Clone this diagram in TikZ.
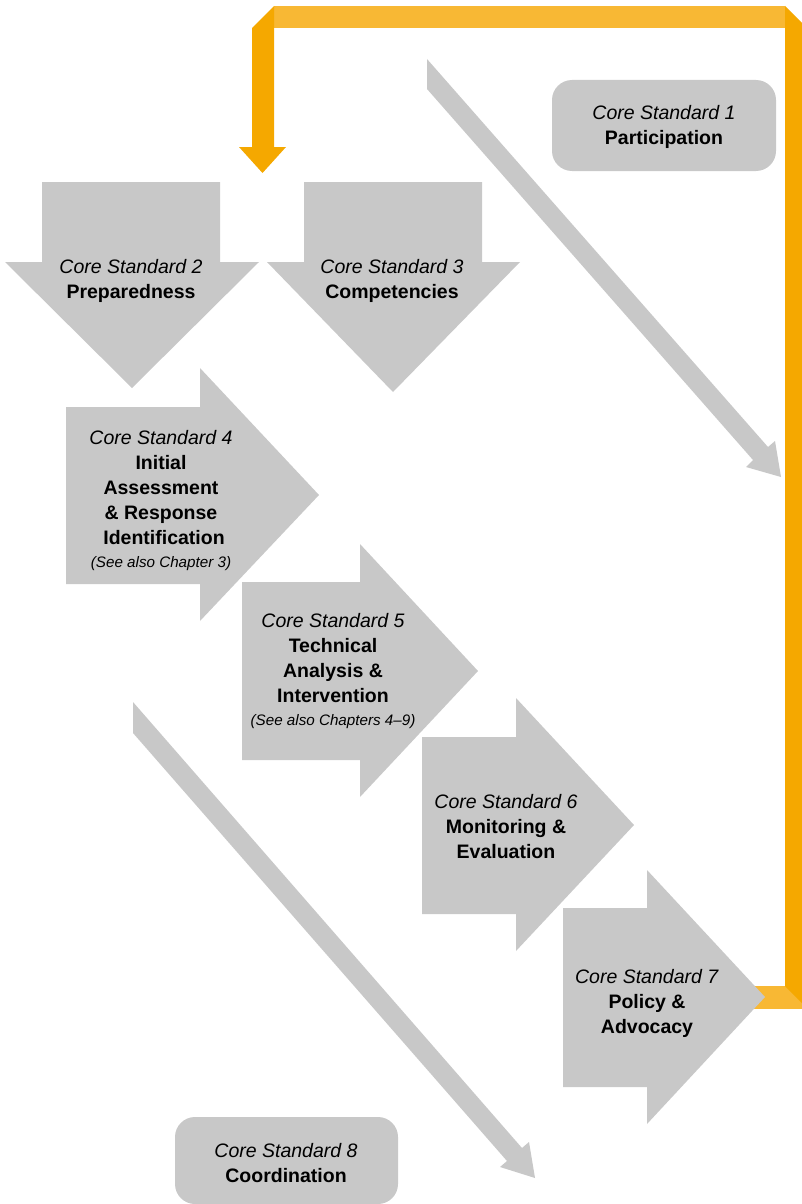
\documentclass[tikz,border=0pt]{standalone}
\usepackage{fontspec}
\setmainfont{Liberation Sans}

\definecolor{boxgray}{RGB}{200,200,200}
\definecolor{ribbonlight}{RGB}{248,184,52}
\definecolor{ribbondark}{RGB}{245,168,0}

\newcommand{\corestd}[1]{\textit{Core Standard #1}}
\newcommand{\seealso}[1]{{\fontsize{15.2}{23}\selectfont\itshape #1}}

\tikzset{
  grayshape/.style={fill=boxgray, draw=none},
  lightband/.style={fill=ribbonlight, draw=none},
  darkband/.style={fill=ribbondark, draw=none},
  roundbox/.style={fill=boxgray, draw=none, rounded corners=20pt},
  lbl/.style={align=center, inner sep=0pt, anchor=north,
              font=\fontsize{19.5}{25}\selectfont, text=black},
}

\begin{document}
\begin{tikzpicture}[x=1pt, y=-1pt]
  \useasboundingbox (0,0) rectangle (802,1204);
  \clip (0,0) rectangle (802,1204);

  % ---- feedback ribbon (orange) ----
  \fill[lightband] (274,6) rectangle (785,28);
  \fill[lightband] (745,986) rectangle (802,1009);
  \fill[darkband] (785,6) -- (802,23) -- (802,1003) -- (785,986) -- cycle;
  \fill[darkband] (252,28) -- (274,6) -- (274,147) -- (286,147)
                  -- (262.5,173) -- (239,147) -- (252,147) -- cycle;

  % ---- diagonal gray arrows ----
  \fill[grayshape] (427,59) -- (768,447) -- (775,441) -- (781,477)
                   -- (746,467) -- (753,460) -- (427,89) -- cycle;
  \fill[grayshape] (133,702) -- (522,1148) -- (529,1142) -- (535,1178)
                   -- (500,1167) -- (507,1161) -- (133,733) -- cycle;

  % ---- downward block arrows ----
  \fill[grayshape] (42,182) -- (220,182) -- (220,262) -- (259,262)
                   -- (132,388) -- (5,262) -- (42,262) -- cycle;
  \fill[grayshape] (304,182) -- (482,182) -- (482,262) -- (520,262)
                   -- (393,392) -- (267,262) -- (304,262) -- cycle;

  % ---- rightward block arrows ----
  \fill[grayshape] (66,407) -- (200,407) -- (200,368) -- (319,495)
                   -- (200,621) -- (200,584) -- (66,584) -- cycle;
  \fill[grayshape] (242,582) -- (360,582) -- (360,544) -- (478,671)
                   -- (360,797) -- (360,760) -- (242,760) -- cycle;
  \fill[grayshape] (422,737) -- (516,737) -- (516,698) -- (634,825)
                   -- (516,951) -- (516,914) -- (422,914) -- cycle;
  \fill[grayshape] (563,908) -- (647,908) -- (647,870) -- (765,997)
                   -- (647,1124) -- (647,1087) -- (563,1087) -- cycle;

  % ---- rounded boxes ----
  \fill[roundbox] (552,80) rectangle (776,171);
  \fill[roundbox] (175,1117) rectangle (398,1204);

  % ---- labels ----
  \node[lbl] (cs1) at (664,104.8) {\corestd{1}\\\textbf{Participation}};
  \node[lbl] (cs2) at (131,258.8) {\corestd{2}\\\textbf{Preparedness}};
  \node[lbl] (cs3) at (392,258.8) {\corestd{3}\\\textbf{Competencies}};
  \node[lbl] (cs4) at (161,429.8) {\corestd{4}\\\textbf{Initial}\\\textbf{Assessment}\\
      \textbf{\& Response}\\\hspace{6pt}\textbf{Identification}\\[-2pt]\seealso{(See also Chapter 3)}};
  \node[lbl] (cs5) at (333,613.3) {\corestd{5}\\\textbf{Technical}\\\textbf{Analysis \&}\\
      \textbf{Intervention}\\[-2pt]\seealso{(See also Chapters 4–9)}};
  \node[lbl] (cs6) at (506,793.8) {\corestd{6}\\\textbf{Monitoring \&}\\\textbf{Evaluation}};
  \node[lbl] (cs7) at (647,968.8) {\corestd{7}\\\textbf{Policy \&}\\\textbf{Advocacy}};
  \node[lbl] (cs8) at (286,1142.8) {\corestd{8}\\\textbf{Coordination}};
\end{tikzpicture}
\end{document}
